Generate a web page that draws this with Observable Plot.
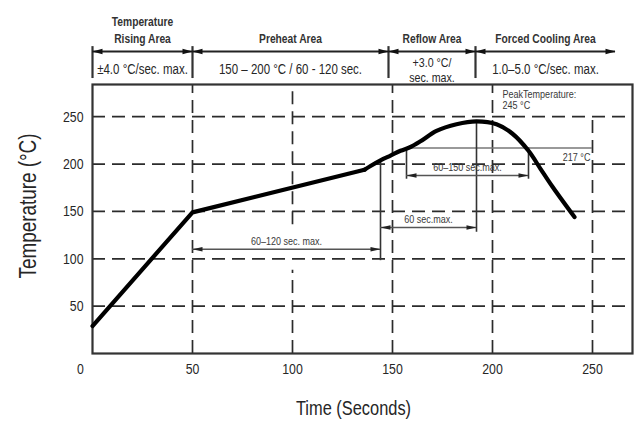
<!DOCTYPE html>
<html><head><meta charset="utf-8">
<script src="https://cdn.jsdelivr.net/npm/d3@7"></script>
<script src="https://cdn.jsdelivr.net/npm/@observablehq/plot@0.6"></script>
<style>
html,body{margin:0;padding:0;background:#fff;}
#chart svg{display:block;}
</style></head><body><div id="chart"></div>
<script>
const FONT = '"Liberation Sans", Arial, sans-serif';
const NARROW = 0.82; // horizontal squeeze that mimics the condensed face of the original

// ---- data ----
const rampTime = [0, 50, 136];
const rampTemp = [29, 149, 194];
const reflowTime = [136, 139, 144, 149, 154, 159, 164, 172, 182, 192, 202, 210, 218, 224, 230, 241];
const reflowTemp = [194, 198, 204, 209, 214, 218, 224, 235, 242, 245, 242, 232, 214, 195, 176, 144];
const xTicks = [50, 100, 150, 200, 250];
const yTicks = [50, 100, 150, 200, 250];
const zoneBounds = [0, 50, 148, 191.5, 261.5];
const zoneTitles = ["Temperature\nRising Area", "Preheat Area", "Reflow Area", "Forced Cooling Area"];
const zoneRates = ["±4.0 °C/sec. max.", "150 – 200 °C / 60 - 120 sec.", "+3.0 °C/\nsec. max.", "1.0–5.0 °C/sec. max."];
const spanStart = [50, 144, 157];
const spanEnd = [144, 192, 218];
const spanTemp = [110, 133, 188];
const spanLabels = ["60–120 sec. max.", "60 sec.max.", "60–150 sec.max."];
const guideTime = [144, 192, 157, 218];
const guideLow = [98, 128, 184, 184];
const guideHigh = [204, 243, 217, 217];
const gridTime = [50, 100, 100, 150, 200, 250];
const gridLow = [0, 0, 136, 0, 0, 0];
const gridHigh = [284, 88, 284, 284, 284, 246];
const liquidusTemp = 217, liquidusFrom = 157, liquidusTo = 250;
const peakTime = 200, peakLabel = "PeakTemperature:\n245 °C";

// ---- layout levels for the header (in °C units above the plotted range) ----
const HDR = {titleBase: 327.3, rate: 299.8, arrow: 318.8, sepLow: 290.3, sepHigh: 324};

// ---- derived tables ----
const ramp = rampTime.map((t, i) => ({t, T: rampTemp[i]}));
const reflow = reflowTime.map((t, i) => ({t, T: reflowTemp[i]}));
const zones = zoneTitles.map((title, i) => ({title, rate: zoneRates[i], a: zoneBounds[i], b: zoneBounds[i + 1], mid: (zoneBounds[i] + zoneBounds[i + 1]) / 2}));
const spans = spanLabels.map((label, i) => ({label, a: spanStart[i], b: spanEnd[i], T: spanTemp[i], mid: (spanStart[i] + spanEnd[i]) / 2}));
const guides = guideTime.map((t, i) => ({t, lo: guideLow[i], hi: guideHigh[i]}));
const grid = gridTime.map((t, i) => ({t, lo: gridLow[i], hi: gridHigh[i]}));

function head(dir, L, H) {
  return {draw(ctx) { ctx.moveTo(0, 0); ctx.lineTo(-dir * L, -H); ctx.lineTo(-dir * L, H); ctx.closePath(); }};
}
const hdrRight = head(1, 10, 2.8), hdrLeft = head(-1, 10, 2.8);
const inRight = head(1, 10, 2.3), inLeft = head(-1, 10, 2.3);
const TXT = "#262626";

const chart = Plot.plot({
  width: 636, height: 429,
  marginLeft: 92, marginRight: 4, marginTop: 84, marginBottom: 76,
  x: {domain: [0, 270], axis: null},
  y: {domain: [0, 284], axis: null},
  style: {background: "#fff", color: "#222", fontFamily: FONT},
  marks: [
    // grid
    Plot.ruleY(yTicks, {stroke: "#2b2b2b", strokeWidth: 1.7, strokeDasharray: "13,7"}),
    Plot.ruleX(grid, {x: "t", y1: "lo", y2: "hi", stroke: "#2b2b2b", strokeWidth: 1.7, strokeDasharray: "13,7"}),
    Plot.frame({stroke: "#333", strokeWidth: 2.2}),
    // axes
    Plot.axisY({ticks: yTicks, tickSize: 0, tickPadding: 9, label: null, fontSize: 15, fontFamily: FONT, fill: TXT}),
    Plot.axisX({ticks: xTicks, tickSize: 0, tickPadding: 10, label: null, fontSize: 15, fontFamily: FONT, fill: TXT}),
    Plot.text([0], {x: d => d, frameAnchor: "bottom", dy: 10, dx: -12, lineAnchor: "top", textAnchor: "middle", text: d => String(d), fontSize: 15, fontFamily: FONT, fill: TXT}),
    Plot.text(["Temperature (°C)"], {frameAnchor: "left", dx: -64, dy: -13, rotate: -90, textAnchor: "middle", lineAnchor: "middle", text: d => d, fontSize: 23, fontFamily: FONT, fill: TXT}),
    Plot.text(["Time (Seconds)"], {frameAnchor: "bottom", dx: -9, dy: 55, textAnchor: "middle", lineAnchor: "middle", text: d => d, fontSize: 20, fontFamily: FONT, fill: TXT}),
    // header
    Plot.ruleX(zoneBounds.slice(0, 4), {x: d => d, y1: HDR.sepLow, y2: HDR.sepHigh, stroke: "#333", strokeWidth: 2.2}),
    Plot.ruleY([HDR.arrow], {x1: zoneBounds[0], x2: zoneBounds[4], y: d => d, stroke: "#222", strokeWidth: 2}),
    Plot.dot(zones, {x: "b", y: HDR.arrow, symbol: hdrRight, r: 3, fill: "#111", stroke: "none"}),
    Plot.dot(zones, {x: "a", y: HDR.arrow, symbol: hdrLeft, r: 3, fill: "#111", stroke: "none"}),
    Plot.text(zones, {x: "mid", y: HDR.titleBase, text: "title", lineAnchor: "bottom", lineHeight: 1.4, fontSize: 12.5, fontWeight: "bold", fontFamily: FONT, fill: "#333"}),
    Plot.text(zones.filter(z => !z.rate.includes("\n")), {x: "mid", y: HDR.rate, text: "rate", lineAnchor: "middle", fontSize: 14, fontFamily: FONT, fill: TXT}),
    Plot.text(zones.filter(z => z.rate.includes("\n")), {x: "mid", y: HDR.rate, text: "rate", lineAnchor: "middle", lineHeight: 1.15, fontSize: 13, fontFamily: FONT, fill: TXT}),
    // annotation guides
    Plot.ruleY([liquidusTemp], {x1: liquidusFrom, x2: liquidusTo, y: d => d, stroke: "#777", strokeWidth: 1.6}),
    Plot.ruleX(guides, {x: "t", y1: "lo", y2: "hi", stroke: "#333", strokeWidth: 1.6}),
    Plot.ruleY(spans, {x1: "a", x2: "b", y: "T", stroke: "#555", strokeWidth: 1.6}),
    Plot.dot(spans, {x: "b", y: "T", symbol: inRight, r: 3, fill: "#222", stroke: "none"}),
    Plot.dot(spans, {x: "a", y: "T", symbol: inLeft, r: 3, fill: "#222", stroke: "none"}),
    Plot.text(spans, {x: "mid", y: "T", dy: -8, text: "label", fontSize: 11, fontFamily: FONT, fill: "#3a3a3a"}),
    Plot.text([liquidusTemp], {x: liquidusTo, y: d => d, dx: -2, dy: 10, textAnchor: "end", text: d => d + " °C", fontSize: 11, fontFamily: FONT, fill: "#3a3a3a"}),
    Plot.text([peakLabel], {x: peakTime, y: 284, dx: 10, dy: 6, textAnchor: "start", lineAnchor: "top", lineHeight: 1.0, text: d => d, fontSize: 11, fontFamily: FONT, fill: "#3a3a3a"}),
    // profile curve
    Plot.line(ramp, {x: "t", y: "T", stroke: "#000", strokeWidth: 4.2, strokeLinecap: "round", strokeLinejoin: "round"}),
    Plot.line(reflow, {x: "t", y: "T", curve: "catmull-rom", stroke: "#000", strokeWidth: 4.2, strokeLinecap: "round", strokeLinejoin: "round"})
  ]
});
document.getElementById("chart").appendChild(chart);

// condense every text run horizontally (font styling only)
chart.querySelectorAll("text").forEach(t => {
  const tspans = t.querySelectorAll("tspan");
  const runs = tspans.length ? Array.from(tspans) : [t];
  runs.forEach(el => {
    const len = el.getComputedTextLength();
    if (len > 0) {
      el.setAttribute("textLength", (len * NARROW).toFixed(2));
      el.setAttribute("lengthAdjust", "spacingAndGlyphs");
    }
  });
});
</script></body></html>
